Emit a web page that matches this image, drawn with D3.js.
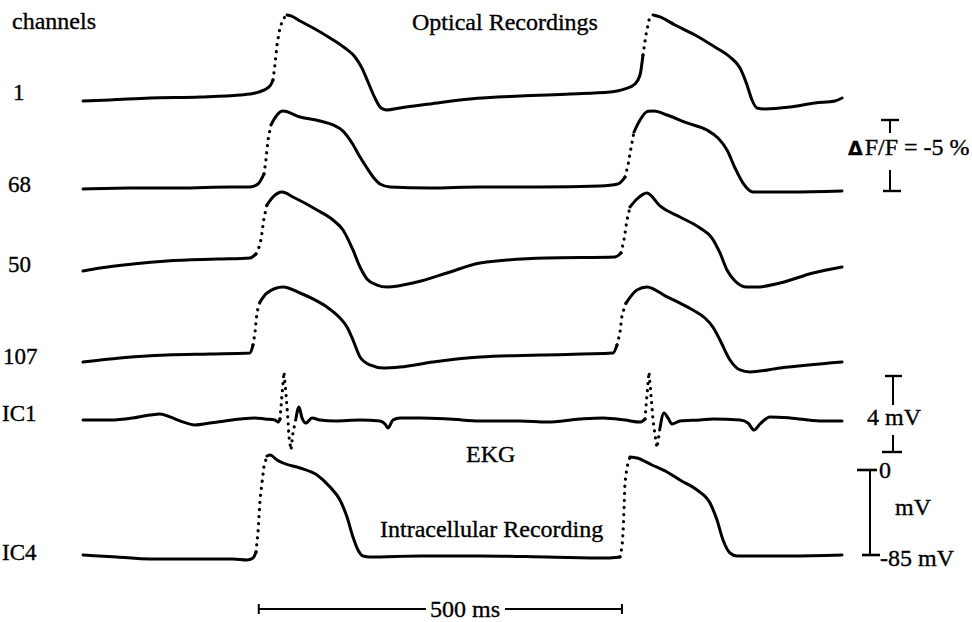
<!DOCTYPE html>
<html>
<head>
<meta charset="utf-8">
<script src="https://cdn.jsdelivr.net/npm/d3@7"></script>
<style>
  body { margin: 0; background: #fff; }
  text { font-family: "Liberation Serif", "Times New Roman", serif; fill: #000; stroke: #000; stroke-width: 0.35px; }
</style>
</head>
<body>
<svg width="972" height="622"></svg>
<script>
// channel labels
var channelNames = ["1", "68", "50", "107", "IC1", "IC4"];

// optical traces: [time ms, -dF/F %]
var ch1 = [[0,0],[37,0.07],[92,0.21],[161,0.28],[216,0.42],[237,0.56],[249,0.77],[257.5,1.06],[261.6,1.48],[264.3,2.54],[267.1,3.94],[271.2,5.14],[275.4,5.77],[280.9,6.06],[286.4,5.99],[298.8,5.63],[319.4,5.07],[340.1,4.44],[360.7,3.73],[374.5,3.1],[384.1,2.32],[392.4,1.34],[402,0.21],[410.3,-0.49],[418.5,-0.63],[436.4,-0.49],[477.7,-0.21],[532.8,0.14],[601.7,0.35],[670.5,0.49],[725.6,0.63],[746.2,0.85],[760,1.2],[766.9,1.83],[771,3.24],[775.1,4.65],[779.3,5.7],[784.8,6.06],[794.4,5.92],[815.1,5.35],[842.6,4.65],[870.1,3.8],[890.8,3.1],[904.6,2.32],[914.2,1.13],[921.1,0.07],[928,-0.49],[939,-0.56],[973.4,-0.42],[1007.8,-0.14],[1035.3,0],[1045,0.21]];
var ch68 = [[0,-0.07],[64.7,0],[133.5,0],[202.4,0.07],[229.9,0.07],[240.9,0.28],[249.2,0.99],[251.9,1.97],[254.7,3.38],[258.8,4.44],[267.1,5.14],[275.4,5.42],[298.8,5.0],[326.3,4.72],[344.2,4.44],[358,4.01],[370.4,3.17],[381.4,2.18],[391,1.41],[400.6,0.7],[408.9,0.28],[422.7,0.07],[477.7,0],[546.6,0.07],[629.2,0.07],[711.8,0.14],[736.6,0.28],[746.2,0.77],[750.4,1.62],[754.5,2.82],[758.6,3.94],[766.9,4.79],[778,5.4],[786,5.42],[804.1,5.14],[831.6,4.58],[859.1,4.08],[874.3,3.52],[886.7,2.68],[897.7,1.41],[908.7,0.35],[922.5,-0.28],[973.4,-0.28],[1045,-0.21]];
var ch50 = [[0,-0.07],[23.4,0.14],[68.8,0.42],[115.7,0.63],[184.5,0.77],[229.9,0.85],[238.2,1.13],[243.7,1.76],[246.4,2.61],[249.2,3.66],[253.3,4.58],[261.6,5.14],[274,5.49],[289.1,5.14],[322.2,4.23],[344.2,3.52],[358,2.82],[371.7,1.41],[381.4,0.21],[391,-0.63],[404.8,-1.06],[418.5,-1.2],[459.9,-0.85],[505.3,-0.14],[546.6,0.49],[638.8,0.85],[732.5,0.92],[740.7,1.2],[744.8,2.11],[749,3.52],[753.1,4.44],[762.7,5.0],[776.5,5.42],[794.4,4.51],[821.9,3.73],[849.5,2.96],[866,2.25],[877,1.2],[886.7,0],[897.7,-0.77],[914.2,-1.2],[928,-1.2],[959.6,-0.92],[1005.1,-0.21],[1045,0.21]];
var ch107 = [[0,0],[50.9,0.28],[115.7,0.49],[174.9,0.56],[229.9,0.63],[234.1,1.2],[236.8,2.04],[239.6,3.52],[243.7,4.23],[253.3,4.86],[275.4,5.28],[298.8,4.86],[319.4,4.37],[335.9,3.87],[353.8,3.1],[363.5,2.46],[371.7,1.55],[381.4,0.35],[395.1,-0.21],[413,-0.42],[436.4,-0.35],[481.9,0],[546.6,0.35],[629.2,0.49],[729.7,0.63],[735.2,1.2],[739.3,2.04],[742.1,3.31],[747.6,4.15],[762.7,5.07],[776.5,5.28],[804.1,4.58],[821.9,4.15],[839.8,3.66],[856.3,3.1],[867.3,2.46],[877,1.55],[890.8,0.14],[904.6,-0.56],[918.3,-0.7],[959.6,-0.42],[1045,0]];

// EKG (IC1): [time ms, mV]
var ekg = [[0,0],[37.2,0],[68.8,0.11],[92.2,0.26],[106,0.32],[119.8,0.16],[133.5,-0.05],[154.2,-0.26],[174.9,-0.16],[195.5,-0.05],[216.2,0.05],[236.8,0.11],[250.6,0.05],[264.3,0],[268.5,-0.11],[271.2,0.05],[274,1.32],[276.7,2.53],[279.5,1.32],[282.2,0],[283.6,-0.89],[286.4,-1.58],[289.1,-0.68],[293.3,0.11],[297.4,0.68],[301.5,0.11],[307,-0.16],[315.3,0.11],[326.3,0],[346.9,-0.05],[381.4,0],[408.9,-0.05],[415.8,-0.21],[419.9,-0.42],[426.8,0],[436.4,0.11],[464,0.11],[505.3,0.05],[546.6,-0.05],[601.7,-0.05],[638.8,-0.11],[684.3,0.05],[715.9,0.11],[746.2,0],[766.9,-0.11],[773.8,0.05],[776.5,1.32],[779.3,2.53],[782,1.32],[784.8,0],[787.5,-0.79],[790.3,-1.47],[794.4,-0.42],[799.9,0.37],[805.4,0.11],[810.9,-0.21],[821.9,-0.05],[849.5,0],[867.3,0.05],[904.6,0],[915.6,-0.16],[923.9,-0.53],[932.1,-0.21],[945.9,0.16],[973.4,0.11],[1014.7,-0.05],[1045,-0.05]];

// intracellular (IC4): [time ms, mV]
var ic4 = [[0,-85],[46.8,-87],[92.2,-89],[161.1,-89],[206.5,-89],[225.8,-90],[234.1,-88],[238.2,-82],[240.9,-63],[243.7,-30],[246.4,-13],[249.2,4],[253.3,14],[257.5,15],[267.1,10],[275.4,7],[298.8,2],[322.2,-5],[340.1,-17],[353.8,-30],[363.5,-47],[371.7,-67],[378.6,-80],[385.5,-86],[395.1,-87],[464,-86],[546.6,-86],[638.8,-87],[721.4,-88],[739.3,-87],[742.1,-77],[743.5,-63],[744.8,-40],[746.2,-13],[749,3],[753.1,13],[762.7,12],[783.4,5],[804.1,-2],[821.9,-10],[845.4,-20],[863.3,-33],[872.9,-50],[881.2,-70],[890.8,-83],[900.4,-86],[973.4,-86],[1045,-85]];

// upstroke windows (ms) drawn as sampled dots
var ch1Up = [[261, 281], [767, 785]];
var ch68Up = [[249, 259], [746, 759]];
var ch50Up = [[238, 254], [740, 754]];
var ch107Up = [[234, 244], [735, 748]];
var ekgUp = [[271, 294], [773, 795]];
var ic4Up = [[238, 254], [739, 754]];

var svg = d3.select("svg");

var x = d3.scaleLinear().domain([0, 1045]).range([83, 842]);
var yOpt = d3.scaleLinear().domain([0, 5]).range([0, -71]);
var yEkg = d3.scaleLinear().domain([0, 4]).range([0, -76]);
var yIc4 = d3.scaleLinear().domain([-85, 0]).range([555, 470]);

var traces = [
  { data: ch1, up: ch1Up, y: function (v) { return 101 + yOpt(v); } },
  { data: ch68, up: ch68Up, y: function (v) { return 188 + yOpt(v); } },
  { data: ch50, up: ch50Up, y: function (v) { return 270 + yOpt(v); } },
  { data: ch107, up: ch107Up, y: function (v) { return 362 + yOpt(v); } },
  { data: ekg, up: ekgUp, y: function (v) { return 420 + yEkg(v); } },
  { data: ic4, up: ic4Up, y: function (v) { return yIc4(v); } }
];

function inUp(t, up) {
  return up.some(function (w) { return t >= w[0] && t <= w[1]; });
}

// split a trace into solid and dotted runs
function runs(data, up) {
  var res = [], cur = null;
  for (var i = 0; i < data.length - 1; i++) {
    var dot = inUp(data[i][0], up) && inUp(data[i + 1][0], up);
    if (!cur || cur.dot !== dot) {
      cur = { dot: dot, pts: [data[i]] };
      res.push(cur);
    }
    cur.pts.push(data[i + 1]);
  }
  return res;
}

traces.forEach(function (tr) {
  var solid = d3.line()
    .x(function (d) { return x(d[0]); })
    .y(function (d) { return tr.y(d[1]); })
    .curve(d3.curveMonotoneX);
  var dotted = d3.line()
    .x(function (d) { return x(d[0]); })
    .y(function (d) { return tr.y(d[1]); });

  svg.append("g").selectAll("path")
    .data(runs(tr.data, tr.up))
    .enter().append("path")
      .attr("d", function (r) { return r.dot ? dotted(r.pts) : solid(r.pts); })
      .attr("fill", "none")
      .attr("stroke", "#000")
      .attr("stroke-width", function (r) { return r.dot ? 3.2 : 3; })
      .attr("stroke-linejoin", "round")
      .attr("stroke-linecap", "round")
      .attr("stroke-dasharray", function (r) { return r.dot ? "0.1,7" : null; });
});

// labels
var labelPos = [[13, 100], [8, 192], [8, 272], [3, 364], [2, 421], [2, 560]];
svg.append("g").selectAll("text")
  .data(channelNames)
  .enter().append("text")
    .attr("x", function (d, i) { return labelPos[i][0]; })
    .attr("y", function (d, i) { return labelPos[i][1]; })
    .attr("font-size", 23)
    .text(function (d) { return d; });

function label(tx, ty, s, size) {
  return svg.append("text").attr("x", tx).attr("y", ty)
    .attr("font-size", size || 24).text(s);
}
label(12, 29, "channels");
label(412, 30, "Optical Recordings");
label(466, 462, "EKG");
label(380, 537, "Intracellular Recording");

function seg(x1, y1, x2, y2, w) {
  svg.append("line")
    .attr("x1", x1).attr("y1", y1).attr("x2", x2).attr("y2", y2)
    .attr("stroke", "#000").attr("stroke-width", w || 2);
}

// dF/F scale bar (5 %)
var fTop = 120, fBot = fTop - yOpt(5);
seg(881, fTop, 899, fTop, 2.4);
seg(890, fTop, 890, fTop + 13, 2);
seg(890, fBot - 21, 890, fBot, 2);
seg(883, fBot, 901, fBot, 2.4);
var df = svg.append("text").attr("x", 848).attr("y", 155).attr("font-size", 24);
df.append("tspan").attr("font-weight", "bold").attr("font-family", "DejaVu Sans").attr("font-size", 19).text("\u0394");
df.append("tspan").attr("dx", 2).text("F/F = -5 %");

// 4 mV scale bar
var eTop = 376, eBot = eTop - yEkg(4);
seg(885, eTop, 902, eTop, 2.4);
seg(893, eTop, 893, eTop + 29, 2);
seg(893, eBot - 17, 893, eBot, 2);
seg(882, eBot, 902, eBot, 2.4);
label(867, 425, "4 mV");

// intracellular mV bar
seg(857, yIc4(0), 877, yIc4(0), 2.6);
seg(870, yIc4(0), 870, yIc4(-85), 2);
seg(862, yIc4(-85), 880, yIc4(-85), 2.6);
label(879, 478, "0");
label(895, 515, "mV");
label(880, 566, "-85 mV");

// 500 ms time bar
var tA = x(242), tB = x(742);
seg(tA, 609, 426, 609, 1.8);
seg(505, 609, tB, 609, 1.8);
seg(tA, 604, tA, 614, 2);
seg(tB, 604, tB, 614, 2);
label(430, 617, "500 ms");
</script>
</body>
</html>
